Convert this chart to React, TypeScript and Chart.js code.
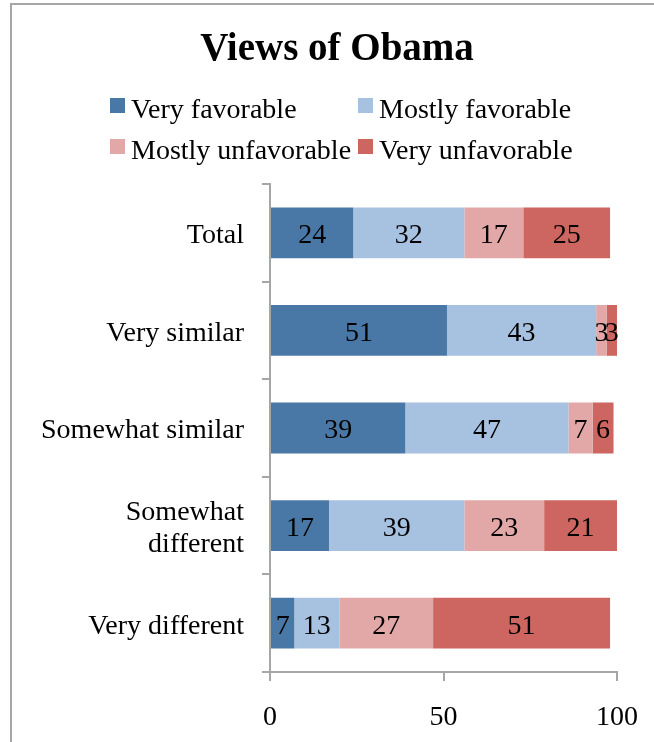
import React, { useEffect, useRef } from "react";
import { Chart, registerables } from "chart.js";

Chart.register(...registerables);

const chartTitle = "Views of Obama";
const categories: (string | string[])[] = [
  "Total",
  "Very similar",
  "Somewhat similar",
  ["Somewhat", "different"],
  "Very different",
];
const seriesNames = ["Very favorable", "Mostly favorable", "Mostly unfavorable", "Very unfavorable"];
const veryFavorable = [24, 51, 39, 17, 7];
const mostlyFavorable = [32, 43, 47, 39, 13];
const mostlyUnfavorable = [17, 3, 7, 23, 27];
const veryUnfavorable = [25, 3, 6, 21, 51];
const xTicks = [0, 50, 100];
const seriesColors = ["#4A78A6", "#A7C1E0", "#E2A8A7", "#CD6660"];

const FONT = "'Liberation Serif', 'Times New Roman', serif";
const AXIS_GRAY = "#A6A6A6";

const titlePlugin = {
  id: "customTitle",
  afterDraw(chart: any) {
    const ctx = chart.ctx;
    ctx.save();
    ctx.font = `bold 39px ${FONT}`;
    ctx.textAlign = "center";
    ctx.textBaseline = "middle";
    ctx.fillStyle = "#000";
    ctx.fillText(chartTitle, 337, 49.5);
    ctx.restore();
  },
};

const legendPlugin = {
  id: "gridLegend",
  afterDraw(chart: any) {
    const ctx = chart.ctx;
    const ds = chart.data.datasets;
    const colX = [110, 358];
    const rowY = [105.5, 146.5];
    const box = 15;
    ctx.save();
    ctx.font = `28px ${FONT}`;
    ctx.textBaseline = "middle";
    ctx.textAlign = "left";
    ds.forEach((d: any, i: number) => {
      const cx = colX[i % 2];
      const cy = rowY[Math.floor(i / 2)];
      ctx.fillStyle = d.backgroundColor;
      ctx.fillRect(cx, cy - box / 2, box, box);
      ctx.fillStyle = "#000";
      ctx.fillText(d.label, cx + 21, cy + 5);
    });
    ctx.restore();
  },
};

const valueLabelPlugin = {
  id: "valueLabels",
  afterDatasetsDraw(chart: any) {
    const ctx = chart.ctx;
    ctx.save();
    ctx.font = `28px ${FONT}`;
    ctx.textAlign = "center";
    ctx.textBaseline = "middle";
    ctx.fillStyle = "#000";
    chart.data.datasets.forEach((d: any, di: number) => {
      const meta = chart.getDatasetMeta(di);
      meta.data.forEach((el: any, i: number) => {
        const v = d.data[i];
        const p = el.getCenterPoint();
        ctx.fillText(String(v), p.x, p.y + 3);
      });
    });
    ctx.restore();
  },
};

export default function App() {
  const ref = useRef<HTMLCanvasElement | null>(null);

  useEffect(() => {
    document.body.style.margin = "0";
    document.body.style.overflow = "hidden";
    document.documentElement.style.overflow = "hidden";
    const canvas = ref.current;
    if (!canvas) return;
    const values = [veryFavorable, mostlyFavorable, mostlyUnfavorable, veryUnfavorable];
    const chart = new Chart(canvas, {
      type: "bar",
      data: {
        labels: categories as any,
        datasets: values.map((vals, i) => ({
          label: seriesNames[i],
          data: vals,
          backgroundColor: seriesColors[i],
          borderWidth: 0,
          categoryPercentage: 1,
          barPercentage: 0.52,
        })),
      },
      options: {
        indexAxis: "y",
        responsive: false,
        animation: false,
        layout: { padding: { left: 0, right: 37, top: 184, bottom: 0 } },
        plugins: {
          legend: { display: false },
          tooltip: { enabled: false },
          title: { display: false },
        },
        scales: {
          x: {
            stacked: true,
            min: xTicks[0],
            max: xTicks[xTicks.length - 1],
            afterFit(scale: any) {
              scale.height = 70;
              scale.paddingLeft = 0;
              scale.paddingRight = 0;
            },
            afterBuildTicks(scale: any) {
              scale.ticks = xTicks.map((v) => ({ value: v }));
            },
            ticks: {
              color: "#000",
              font: { family: FONT, size: 28, lineHeight: 1.2 },
              padding: 20,
              maxRotation: 0,
            },
            grid: {
              drawOnChartArea: false,
              drawTicks: true,
              tickLength: 9,
              color: AXIS_GRAY,
              lineWidth: 2,
            },
            border: { display: true, color: AXIS_GRAY, width: 2 },
          },
          y: {
            stacked: true,
            afterFit(scale: any) {
              scale.width = 270;
            },
            ticks: {
              color: "#000",
              font: { family: FONT, size: 28, lineHeight: 1.15 },
              padding: 18,
              labelOffset: 3,
            },
            grid: {
              drawOnChartArea: false,
              drawTicks: true,
              tickLength: 8,
              color: AXIS_GRAY,
              lineWidth: 2,
              offset: true,
            },
            border: { display: true, color: AXIS_GRAY, width: 2 },
          },
        },
      } as any,
      plugins: [titlePlugin, legendPlugin, valueLabelPlugin],
    });
    return () => chart.destroy();
  }, []);

  return (
    <div style={{ position: "relative", width: 654, height: 742, overflow: "hidden", background: "#fff" }}>
      <div
        style={{
          position: "absolute",
          left: 10,
          top: 3,
          width: 720,
          height: 800,
          border: `2px solid ${AXIS_GRAY}`,
          boxSizing: "border-box",
        }}
      />
      <canvas
        ref={ref}
        width={654}
        height={742}
        style={{ position: "absolute", left: 0, top: 0, width: 654, height: 742 }}
      />
    </div>
  );
}
